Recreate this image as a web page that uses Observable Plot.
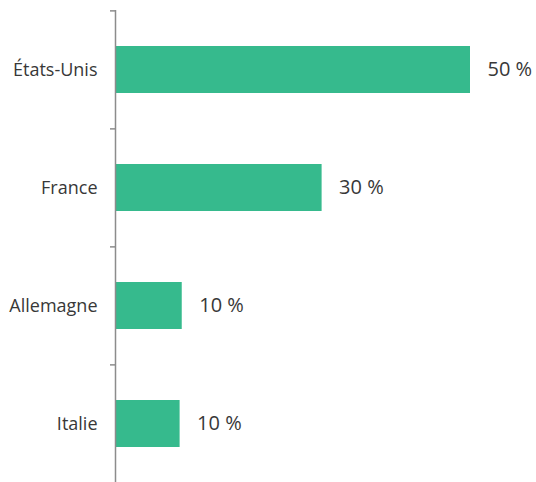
<!DOCTYPE html>
<html>
<head>
<meta charset="utf-8">
<script src="https://cdn.jsdelivr.net/npm/d3@7"></script>
<script src="https://cdn.jsdelivr.net/npm/@observablehq/plot@0.6"></script>
<style>
  html, body { margin: 0; padding: 0; background: #fff; overflow: hidden; }
</style>
</head>
<body>
<div id="chart"></div>
<script>
const countries = ["États-Unis", "France", "Allemagne", "Italie"];
const values = [50, 29.1, 9.4, 9.1];
const labels = ["50 %", "30 %", "10 %", "10 %"];

const data = countries.map((c, i) => ({country: c, value: values[i], label: labels[i]}));

const width = 536, height = 483, marginTop = 10, marginBottom = 0;
const step = (height - marginTop - marginBottom) / countries.length;

const chart = Plot.plot({
  width,
  height,
  marginTop,
  marginBottom,
  marginLeft: 115,
  marginRight: 66,
  style: {fontFamily: "'Open Sans', sans-serif", background: "#fff"},
  x: {domain: [0, 50], axis: null},
  y: {domain: countries, paddingInner: 0.6, paddingOuter: 0.3, axis: null},
  marks: [
    Plot.barX(data, {x: "value", y: "country", fill: "#36ba8d"}),
    Plot.axisY({tickSize: 0, tickPadding: 18, fontSize: 18, color: "#383838", label: null}),
    Plot.axisY({tickSize: 5, tickFormat: () => "", dy: -step / 2, stroke: "#8c8c8c", strokeWidth: 1.5, label: null}),
    Plot.ruleX([0], {stroke: "#8c8c8c", strokeWidth: 1.5}),
    Plot.text(data, {x: "value", y: "country", text: "label", textAnchor: "start", dx: 17, fontSize: 20, fill: "#383838"})
  ]
});
document.getElementById("chart").appendChild(chart);
</script>
</body>
</html>
